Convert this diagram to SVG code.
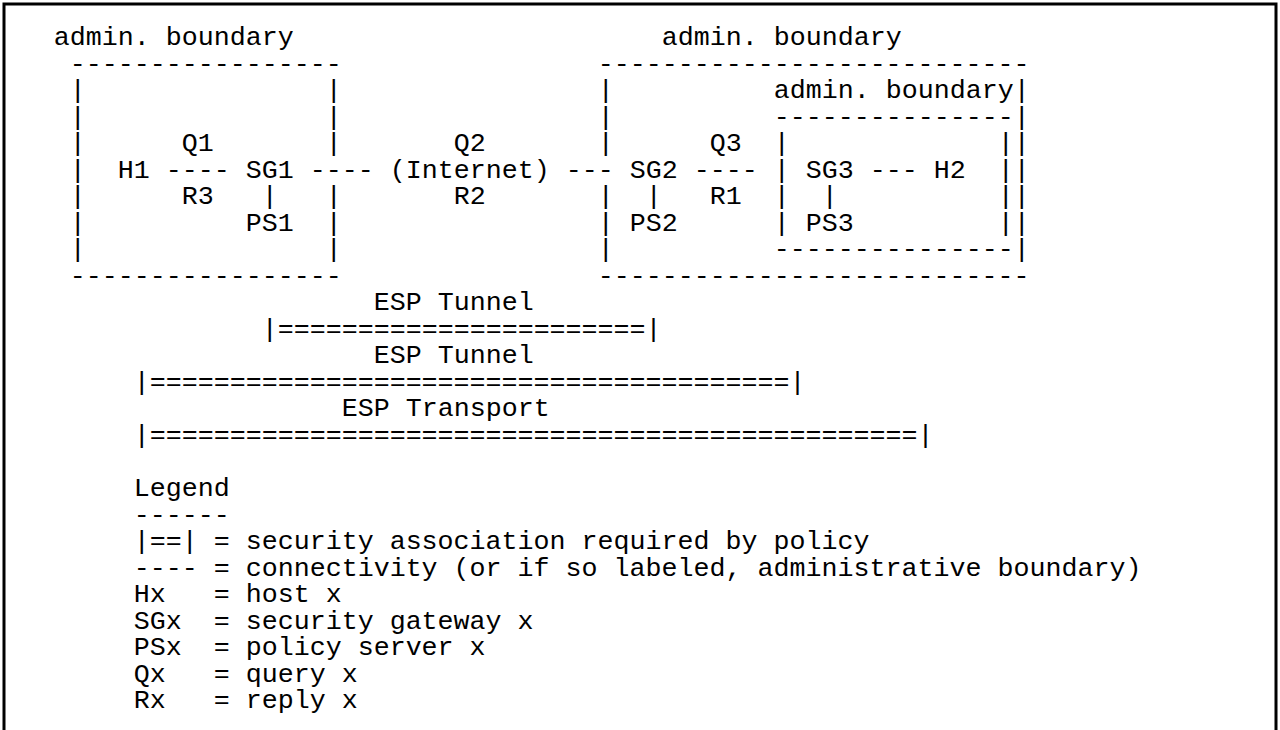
<svg xmlns="http://www.w3.org/2000/svg" width="1280" height="730" viewBox="0 0 1280 730">
  <style>
    text { font-family: "Liberation Mono", "Courier New", monospace; font-size: 26.67px; fill: #000; white-space: pre; }
  </style>
  <rect width="1280" height="730" fill="#fff"/>
  <!-- page frame (open at the bottom) -->
  <path d="M4,730 V4 H1276 V730" fill="none" stroke="#000" stroke-width="3"/>

  <!-- left administrative boundary -->
  <g id="boundary-left">
    <text x="53.7" y="45">admin. boundary</text>
    <text x="69.7" y="71.53">-----------------</text>
    <text x="69.7" y="98.06">|</text><text x="325.7" y="98.06">|</text>
    <text x="69.7" y="124.59">|</text><text x="325.7" y="124.59">|</text>
    <text x="69.7" y="151.12">|</text><text x="325.7" y="151.12">|</text>
    <text x="69.7" y="177.65">|</text>
    <text x="69.7" y="204.18">|</text><text x="325.7" y="204.18">|</text>
    <text x="69.7" y="230.71">|</text><text x="325.7" y="230.71">|</text>
    <text x="69.7" y="257.24">|</text><text x="325.7" y="257.24">|</text>
    <text x="69.7" y="283.77">-----------------</text>
  </g>

  <!-- right administrative boundary -->
  <g id="boundary-right">
    <text x="661.7" y="45">admin. boundary</text>
    <text x="597.7" y="71.53">---------------------------</text>
    <text x="597.7" y="98.06">|</text><text x="1013.7" y="98.06">|</text>
    <text x="597.7" y="124.59">|</text><text x="1013.7" y="124.59">|</text>
    <text x="597.7" y="151.12">|</text><text x="1013.7" y="151.12">|</text>
    <text x="1013.7" y="177.65">|</text>
    <text x="597.7" y="204.18">|</text><text x="1013.7" y="204.18">|</text>
    <text x="597.7" y="230.71">|</text><text x="1013.7" y="230.71">|</text>
    <text x="597.7" y="257.24">|</text><text x="1013.7" y="257.24">|</text>
    <text x="597.7" y="283.77">---------------------------</text>
  </g>

  <!-- nested administrative boundary -->
  <g id="boundary-inner">
    <text x="773.7" y="98.06">admin. boundary</text>
    <text x="773.7" y="124.59">---------------</text>
    <text x="773.7" y="151.12">|</text><text x="997.7" y="151.12">|</text>
    <text x="773.7" y="177.65">|</text><text x="997.7" y="177.65">|</text>
    <text x="773.7" y="204.18">|</text><text x="997.7" y="204.18">|</text>
    <text x="773.7" y="230.71">|</text><text x="997.7" y="230.71">|</text>
    <text x="773.7" y="257.24">---------------</text>
  </g>

  <!-- hosts, gateways, policy servers -->
  <g id="node-h1"><text x="117.7" y="177.65">H1</text></g>
  <g id="node-sg1"><text x="245.7" y="177.65">SG1</text></g>
  <g id="node-ps1"><text x="245.7" y="230.71">PS1</text></g>
  <g id="node-internet"><text x="389.7" y="177.65">(Internet)</text></g>
  <g id="node-sg2"><text x="629.7" y="177.65">SG2</text></g>
  <g id="node-ps2"><text x="629.7" y="230.71">PS2</text></g>
  <g id="node-sg3"><text x="805.7" y="177.65">SG3</text></g>
  <g id="node-ps3"><text x="805.7" y="230.71">PS3</text></g>
  <g id="node-h2"><text x="933.7" y="177.65">H2</text></g>

  <!-- links with query / reply labels -->
  <g id="connectors">
    <text x="165.7" y="177.65">----</text>
    <text x="309.7" y="177.65">----</text>
    <text x="565.7" y="177.65">---</text>
    <text x="693.7" y="177.65">----</text>
    <text x="869.7" y="177.65">---</text>
    <text x="261.7" y="204.18">|</text>
    <text x="645.7" y="204.18">|</text>
    <text x="821.7" y="204.18">|</text>
    <text x="181.7" y="151.12">Q1</text>
    <text x="181.7" y="204.18">R3</text>
    <text x="453.7" y="151.12">Q2</text>
    <text x="453.7" y="204.18">R2</text>
    <text x="709.7" y="151.12">Q3</text>
    <text x="709.7" y="204.18">R1</text>
  </g>

  <!-- security associations -->
  <g id="sa-bars">
    <text x="373.7" y="310.3">ESP Tunnel</text>
    <text x="261.7" y="336.83">|=======================|</text>
    <text x="373.7" y="363.36">ESP Tunnel</text>
    <text x="133.7" y="389.89">|========================================|</text>
    <text x="341.7" y="416.42">ESP Transport</text>
    <text x="133.7" y="442.95">|================================================|</text>
  </g>

  <!-- legend -->
  <g id="legend">
    <text x="133.7" y="496.01">Legend</text>
    <text x="133.7" y="522.54">------</text>
    <text x="133.7" y="549.07">|==| = security association required by policy</text>
    <text x="133.7" y="575.6">---- = connectivity (or if so labeled, administrative boundary)</text>
    <text x="133.7" y="602.13">Hx   = host x</text>
    <text x="133.7" y="628.66">SGx  = security gateway x</text>
    <text x="133.7" y="655.19">PSx  = policy server x</text>
    <text x="133.7" y="681.72">Qx   = query x</text>
    <text x="133.7" y="708.25">Rx   = reply x</text>
  </g>
</svg>
